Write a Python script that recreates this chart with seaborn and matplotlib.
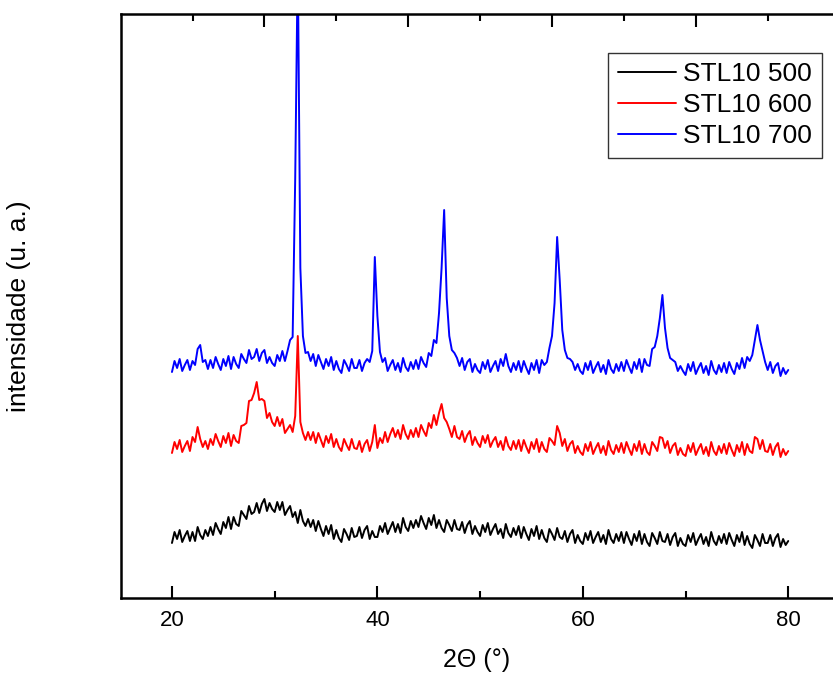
import numpy as np
import pandas as pd
import seaborn as sns
from matplotlib import pyplot as plt
from matplotlib import ticker

# 2-theta grid of the scan (0.25 deg step)
two_theta = np.arange(20, 80.001, 0.25)

# intensities (arbitrary units)
stl10_500 = [
    55, 66, 59, 68, 56, 62, 67, 57,
    66, 57, 71, 63, 59, 68, 62, 71,
    63, 75, 69, 64, 76, 70, 81, 69,
    81, 74, 72, 87, 83, 79, 92, 84,
    86, 95, 85, 94, 99, 87, 95, 89,
    86, 96, 88, 96, 83, 88, 92, 81,
    86, 75, 88, 77, 72, 79, 71, 78,
    67, 77, 69, 62, 72, 64, 73, 59,
    68, 60, 56, 69, 64, 58, 70, 61,
    62, 71, 60, 68, 72, 59, 67, 61,
    61, 72, 66, 75, 64, 70, 76, 66,
    74, 65, 80, 71, 67, 77, 70, 78,
    71, 82, 75, 69, 80, 73, 83, 70,
    78, 70, 66, 78, 73, 67, 78, 69,
    68, 76, 65, 73, 77, 64, 72, 66,
    62, 73, 66, 75, 63, 69, 74, 64,
    69, 60, 74, 65, 61, 70, 63, 72,
    60, 71, 64, 58, 69, 62, 72, 59,
    68, 60, 56, 69, 64, 58, 70, 61,
    59, 67, 56, 64, 68, 55, 63, 57,
    54, 65, 58, 67, 55, 61, 66, 56,
    63, 54, 68, 59, 55, 64, 57, 66,
    55, 66, 59, 53, 64, 57, 67, 54,
    64, 56, 52, 65, 60, 54, 66, 57,
    56, 64, 53, 61, 65, 52, 60, 54,
    52, 63, 56, 65, 53, 59, 64, 54,
    61, 52, 66, 57, 53, 62, 55, 64,
    54, 65, 58, 52, 63, 56, 66, 53,
    62, 54, 50, 63, 58, 52, 64, 55,
    55, 63, 52, 60, 64, 51, 59, 53,
    57,
]

stl10_600 = [
    145, 156, 149, 158, 146, 152, 157, 147,
    161, 156, 171, 159, 151, 157, 149, 159,
    153, 164, 157, 151, 162, 155, 165, 152,
    163, 157, 155, 172, 173, 175, 197, 198,
    205, 216, 198, 199, 197, 180, 185, 176,
    172, 181, 172, 179, 165, 169, 173, 166,
    182, 262, 176, 165, 158, 166, 158, 166,
    155, 165, 158, 151, 162, 155, 164, 151,
    159, 151, 147, 159, 153, 148, 159, 150,
    149, 157, 146, 154, 158, 147, 156, 173,
    150, 160, 155, 166, 156, 164, 170, 161,
    168, 159, 173, 164, 159, 168, 161, 170,
    161, 173, 167, 162, 175, 170, 183, 173,
    185, 194, 180, 176, 169, 161, 172, 161,
    159, 167, 156, 163, 167, 153, 161, 155,
    151, 162, 155, 163, 151, 157, 161, 151,
    157, 148, 161, 152, 148, 157, 149, 158,
    147, 158, 151, 145, 156, 149, 159, 146,
    156, 149, 146, 160, 157, 153, 172, 165,
    152, 159, 147, 154, 157, 145, 152, 146,
    143, 154, 147, 156, 144, 150, 155, 145,
    152, 143, 157, 148, 144, 153, 146, 155,
    145, 156, 149, 143, 154, 147, 157, 144,
    154, 146, 143, 156, 152, 147, 161, 160,
    150, 157, 145, 152, 155, 143, 150, 144,
    142, 153, 146, 155, 143, 149, 154, 144,
    151, 142, 156, 147, 143, 152, 145, 154,
    144, 155, 148, 142, 153, 146, 156, 143,
    154, 147, 145, 161, 159, 149, 158, 147,
    146, 154, 143, 151, 155, 141, 149, 143,
    147,
]

stl10_700 = [
    226, 237, 230, 239, 227, 233, 238, 228,
    237, 233, 249, 253, 236, 238, 229, 238,
    230, 241, 234, 228, 239, 232, 242, 229,
    241, 234, 230, 244, 239, 235, 248, 239,
    241, 249, 237, 245, 248, 235, 241, 235,
    232, 243, 237, 247, 237, 247, 258, 261,
    420, 640, 330, 262, 245, 246, 237, 244,
    232, 243, 236, 229, 239, 232, 241, 228,
    237, 229, 225, 238, 233, 227, 239, 230,
    230, 238, 227, 235, 239, 236, 247, 341,
    282, 246, 236, 240, 227, 233, 238, 228,
    235, 226, 240, 231, 227, 236, 229, 238,
    229, 241, 235, 231, 245, 242, 258, 255,
    285, 330, 388, 300, 262, 248, 245, 240,
    232, 240, 228, 236, 239, 226, 234, 228,
    225, 236, 229, 238, 226, 232, 237, 227,
    239, 232, 244, 232, 226, 235, 228, 237,
    226, 237, 230, 224, 235, 228, 238, 225,
    238, 233, 236, 250, 262, 295, 361, 318,
    268, 248, 240, 239, 236, 228, 234, 227,
    224, 235, 228, 237, 225, 231, 236, 226,
    233, 224, 238, 229, 225, 234, 227, 236,
    227, 238, 231, 225, 236, 229, 239, 226,
    239, 233, 232, 249, 251, 262, 280, 303,
    270, 250, 240, 238, 236, 227, 232, 227,
    223, 234, 227, 236, 224, 230, 235, 225,
    232, 223, 237, 228, 224, 233, 226, 235,
    225, 236, 229, 224, 235, 229, 240, 230,
    241, 237, 243, 258, 273, 258, 247, 236,
    228, 236, 225, 232, 235, 222, 230, 224,
    228,
]

amostras = ["STL10 500", "STL10 600", "STL10 700"]
cores = ["#000000", "#ff0000", "#0000ff"]

# ticks of the top axis (as in the original figure)
top_major = [29, 43, 57, 71]
top_minor = [22, 36, 50, 64, 78]

df = pd.concat([
    pd.DataFrame({"2theta": two_theta, "intensidade": vals, "amostra": nome})
    for nome, vals in zip(amostras, [stl10_500, stl10_600, stl10_700])
])

sns.set_style("white")
plt.rcParams["font.family"] = ["Liberation Sans", "DejaVu Sans"]
plt.rcParams["text.color"] = "black"
plt.rcParams["axes.labelcolor"] = "black"
plt.rcParams["xtick.color"] = "black"

fig = plt.figure(figsize=(8.33, 6.79), dpi=100)
ax = fig.add_axes([120.6 / 833, 81 / 679, 719 / 833, 584 / 679])

sns.lineplot(
    df,
    x="2theta",
    y="intensidade",
    hue="amostra",
    palette=cores,
    linewidth=1.4,
    estimator=None,
    sort=False,
    ax=ax,
)

ax.set_xlim(15, 85)
ax.set_ylim(0, 584)
ax.set_yticks([])

ax.xaxis.set_major_locator(ticker.MultipleLocator(20))
ax.xaxis.set_minor_locator(ticker.MultipleLocator(10))
ax.tick_params(axis="x", which="major", direction="in", length=9, width=1.5,
               labelsize=16, pad=9, bottom=True)
ax.tick_params(axis="x", which="minor", direction="in", length=5, width=1.5,
               bottom=True)

for s in ax.spines.values():
    s.set_linewidth(1.8)
    s.set_color("black")

top = ax.twiny()
top.set_xlim(ax.get_xlim())
top.set_xticks(top_major)
top.set_xticks(top_minor, minor=True)
top.set_xticklabels([])
top.tick_params(axis="x", which="major", direction="in", length=9, width=1.5, top=True)
top.tick_params(axis="x", which="minor", direction="in", length=5, width=1.5, top=True)
for s in top.spines.values():
    s.set_visible(False)

ax.set_xlabel("2\u0398 (°)", fontsize=18)
ax.xaxis.set_label_coords(0.495, -0.085)
ax.set_ylabel("intensidade (u. a.)", fontsize=19)
ax.yaxis.set_label_coords(-0.125, 0.5)

leg = ax.legend(
    loc="upper right",
    bbox_to_anchor=(701 / 719, 545 / 584),
    fontsize=19,
    frameon=True,
    fancybox=False,
    edgecolor="black",
    handlelength=2.2,
    handletextpad=0.3,
    labelspacing=0.27,
    borderpad=0.35,
    borderaxespad=0,
)
leg.get_frame().set_linewidth(1.0)

fig.savefig("out.png", dpi=100)
